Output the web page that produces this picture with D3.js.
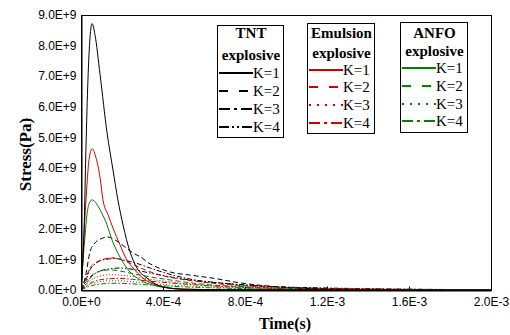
<!DOCTYPE html>
<html><head><meta charset="utf-8">
<script src="https://cdn.jsdelivr.net/npm/d3@7"></script>
<style>
body{margin:0;background:#fff}svg{display:block}
.serif{font-family:"Liberation Serif","Times New Roman","DejaVu Serif",serif}
.sans{font-family:"Liberation Sans",Arial,sans-serif}
</style>
</head><body>
<script>
// time in 1e-4 s, stress in 1e9 Pa
const xTickVals = [0, 4, 8, 12, 16, 20];
const xTickLabels = ["0.0E+0", "4.0E-4", "8.0E-4", "1.2E-3", "1.6E-3", "2.0E-3"];
const yTickVals = [0, 1, 2, 3, 4, 5, 6, 7, 8, 9];
const yTickLabels = ["0.0E+0", "1.0E+9", "2.0E+9", "3.0E+9", "4.0E+9", "5.0E+9", "6.0E+9", "7.0E+9", "8.0E+9", "9.0E+9"];
const explosives = ["TNT", "Emulsion", "ANFO"];
const kLabels = ["K=1", "K=2", "K=3", "K=4"];

const tntK1 = [[0,0],[0.15,1.97],[0.24,4.6],[0.34,6.9],[0.44,8.26],[0.54,8.72],[0.68,8.36],[0.93,7.05],[1.27,5.15],[1.56,3.93],[1.8,2.95],[2.05,2.13],[2.39,1.25],[2.73,0.72],[3.22,0.39],[4.0,0.1],[5.0,0.03],[7,0.01],[20,0]];
const tntK2 = [[0,0],[0.2,0.39],[0.44,1.25],[0.68,1.54],[1.07,1.7],[1.27,1.74],[1.66,1.64],[2.0,1.48],[2.54,1.21],[2.98,1.05],[3.22,0.92],[3.7,0.75],[4.34,0.59],[5.3,0.49],[6.4,0.39],[7.8,0.23],[9.7,0.1],[12.1,0.03],[15.6,0.0],[20,0]];
const tntK3 = [[0,0],[0.2,0.26],[0.44,0.66],[0.68,0.85],[1.17,1.0],[1.66,1.03],[2.15,0.97],[2.63,0.89],[3.37,0.72],[4.1,0.56],[5.3,0.36],[6.8,0.23],[8.7,0.13],[11.7,0.07],[15.6,0.03],[20,0.01]];
const tntK4 = [[0,0],[0.2,0.16],[0.54,0.46],[0.93,0.62],[1.41,0.69],[1.9,0.72],[2.39,0.69],[3.12,0.59],[4.1,0.46],[5.3,0.33],[7.3,0.2],[9.7,0.1],[13.1,0.03],[20,0.01]];

const emuK1 = [[0,0],[0.1,1.31],[0.2,2.46],[0.29,3.44],[0.39,4.26],[0.54,4.62],[0.73,4.33],[0.93,3.67],[1.07,2.95],[1.32,2.46],[1.56,2.03],[1.9,1.48],[2.24,0.98],[2.54,0.72],[3.02,0.39],[3.7,0.16],[4.83,0.03],[7,0.005],[20,0]];
const emuK2 = [[0,0],[0.2,0.33],[0.44,0.72],[0.78,0.92],[1.17,1.02],[1.56,1.05],[2.0,0.98],[2.49,0.85],[3.12,0.66],[3.85,0.49],[4.83,0.36],[6.3,0.23],[8.2,0.13],[10.7,0.07],[14.6,0.03],[20,0.01]];
const emuK3 = [[0,0],[0.2,0.15],[0.5,0.33],[0.9,0.45],[1.4,0.5],[1.9,0.49],[2.5,0.44],[3.2,0.37],[4.2,0.28],[5.5,0.19],[7,0.12],[9,0.07],[12,0.03],[16,0.01],[20,0]];
const emuK4 = [[0,0],[0.2,0.1],[0.5,0.24],[0.9,0.33],[1.4,0.37],[1.9,0.38],[2.5,0.35],[3.2,0.3],[4.2,0.24],[5.5,0.17],[7,0.11],[9,0.06],[12,0.03],[16,0.01],[20,0]];

const anfoK1 = [[0,0],[0.1,0.98],[0.2,1.8],[0.29,2.46],[0.39,2.82],[0.54,2.95],[0.73,2.85],[0.98,2.56],[1.27,2.13],[1.51,1.64],[1.9,1.08],[2.39,0.59],[2.88,0.33],[3.51,0.16],[4.2,0.07],[5.8,0.0],[20,0]];
const anfoK2 = [[0,0],[0.2,0.23],[0.54,0.49],[0.93,0.62],[1.41,0.66],[1.9,0.62],[2.63,0.52],[3.37,0.43],[4.34,0.33],[5.8,0.2],[8.2,0.1],[11.7,0.03],[20,0.01]];
const anfoK3 = [[0,0],[0.2,0.09],[0.5,0.2],[0.9,0.27],[1.4,0.3],[1.9,0.3],[2.5,0.27],[3.2,0.23],[4.2,0.17],[5.5,0.12],[7,0.08],[9,0.04],[12,0.02],[16,0.01],[20,0]];
const anfoK4 = [[0,0],[0.2,0.06],[0.5,0.14],[0.9,0.19],[1.4,0.22],[1.9,0.22],[2.5,0.2],[3.2,0.17],[4.2,0.13],[5.5,0.09],[7,0.06],[9,0.03],[12,0.015],[16,0.005],[20,0]];

const seriesData = [[tntK1, tntK2, tntK3, tntK4],[emuK1, emuK2, emuK3, emuK4],[anfoK1, anfoK2, anfoK3, anfoK4]];
const colors = ["#000000", "#cc0000", "#008000"];
const styles = [["solid","dash","dashdot","dashdotdot"],["solid","dash","dot","dashdot"],["solid","dash","dot","dashdot"]];
const plotDash = {solid:null, dash:"5,3", dot:"1,2", dashdot:"5,2,1.5,2", dashdotdot:"5,2,1.5,2,1.5,2"};
const legendDash = {solid:null, dash:"9,11", dot:"2,6", dashdot:"11,4,3,4", dashdotdot:"10,3,2,3,2,3"};

const W = 510, H = 335;
const m = {l:81, r:19, t:15, b:45};
const svg = d3.select("body").append("svg").attr("width", W).attr("height", H);
const x = d3.scaleLinear().domain([0, 20]).range([m.l, W - m.r]);
const y = d3.scaleLinear().domain([0, 9]).range([H - m.b, m.t]);

svg.append("defs").append("clipPath").attr("id","clip").append("rect")
  .attr("x", m.l).attr("y", m.t).attr("width", W - m.r - m.l).attr("height", H - m.b - m.t);

const line = d3.line().x(d => x(d[0])).y(d => y(d[1])).curve(d3.curveMonotoneX);
const g = svg.append("g").attr("clip-path","url(#clip)");
for (let k = 3; k >= 0; k--) {
  for (let e = 2; e >= 0; e--) {
    g.append("path").datum(seriesData[e][k]).attr("d", line)
      .attr("fill","none").attr("stroke", colors[e]).attr("stroke-width", 1)
      .attr("stroke-dasharray", plotDash[styles[e][k]]);
  }
}

svg.append("rect").attr("x", m.l + 0.5).attr("y", m.t + 0.5)
  .attr("width", W - m.r - m.l).attr("height", H - m.b - m.t)
  .attr("fill","none").attr("stroke","#000").attr("stroke-width",1);

const xAxis = d3.axisBottom(x).tickValues(xTickVals).tickSizeInner(-4).tickSizeOuter(0)
  .tickFormat((d,i) => xTickLabels[i]);
const gx = svg.append("g").attr("transform", `translate(0,${H - m.b + 0.5})`).call(xAxis);
const yAxis = d3.axisLeft(y).tickValues(yTickVals).tickSize(0)
  .tickFormat((d,i) => yTickLabels[i]).tickPadding(5);
const gy = svg.append("g").attr("transform", `translate(${m.l + 0.5},0)`).call(yAxis);
[gx, gy].forEach(a => {
  a.attr("font-family", null).attr("font-size", null);
  a.selectAll("text").attr("class","sans").style("font-size","12px").attr("fill","#000");
  a.select(".domain").attr("stroke","#000");
  a.selectAll(".tick line").attr("stroke","#000");
});
gx.selectAll("text").attr("dy","0.71em").attr("y", 7);

svg.append("text").attr("class","serif").attr("x", (m.l + W - m.r)/2 - 1).attr("y", 329)
  .attr("text-anchor","middle").style("font-weight","bold").style("font-size","16px").text("Time(s)");
svg.append("text").attr("class","serif").attr("transform", `translate(31,${(m.t + H - m.b)/2 + 2}) rotate(-90)`)
  .attr("text-anchor","middle").style("font-weight","bold").style("font-size","17px").text("Stress(Pa)");

const boxes = [{x:217, y:25, w:66, h:112, rows:[73,91,109,127], t1:33, t2:55},
               {x:307, y:23, w:67, h:110, rows:[70,87,105,123], t1:33, t2:53},
               {x:400, y:22, w:67, h:110, rows:[68,86,104,121], t1:33, t2:51}];
boxes.forEach((b, e) => {
  const lg = svg.append("g");
  lg.append("rect").attr("x", b.x + 0.5).attr("y", b.y + 0.5).attr("width", b.w).attr("height", b.h)
    .attr("fill","#fff").attr("stroke","#000").attr("stroke-width",1);
  lg.append("text").attr("class","serif").attr("x", b.x + b.w/2 + 1).attr("y", b.t1).attr("dy","0.35em")
    .attr("text-anchor","middle").style("font-weight","bold").style("font-size","15px").text(explosives[e]);
  lg.append("text").attr("class","serif").attr("x", b.x + b.w/2 + 1).attr("y", b.t2).attr("dy","0.35em")
    .attr("text-anchor","middle").style("font-weight","bold").style("font-size","15px").text("explosive");
  kLabels.forEach((kl, k) => {
    lg.append("line").attr("x1", b.x + 2).attr("x2", b.x + 36).attr("y1", b.rows[k]).attr("y2", b.rows[k])
      .attr("stroke", colors[e]).attr("stroke-width", 2).attr("stroke-dasharray", legendDash[styles[e][k]]);
    lg.append("text").attr("class","serif").attr("x", b.x + 36).attr("y", b.rows[k]).attr("dy","0.35em")
      .style("font-size","15px").attr("fill","#000").text(kl);
  });
});
</script>
</body></html>
